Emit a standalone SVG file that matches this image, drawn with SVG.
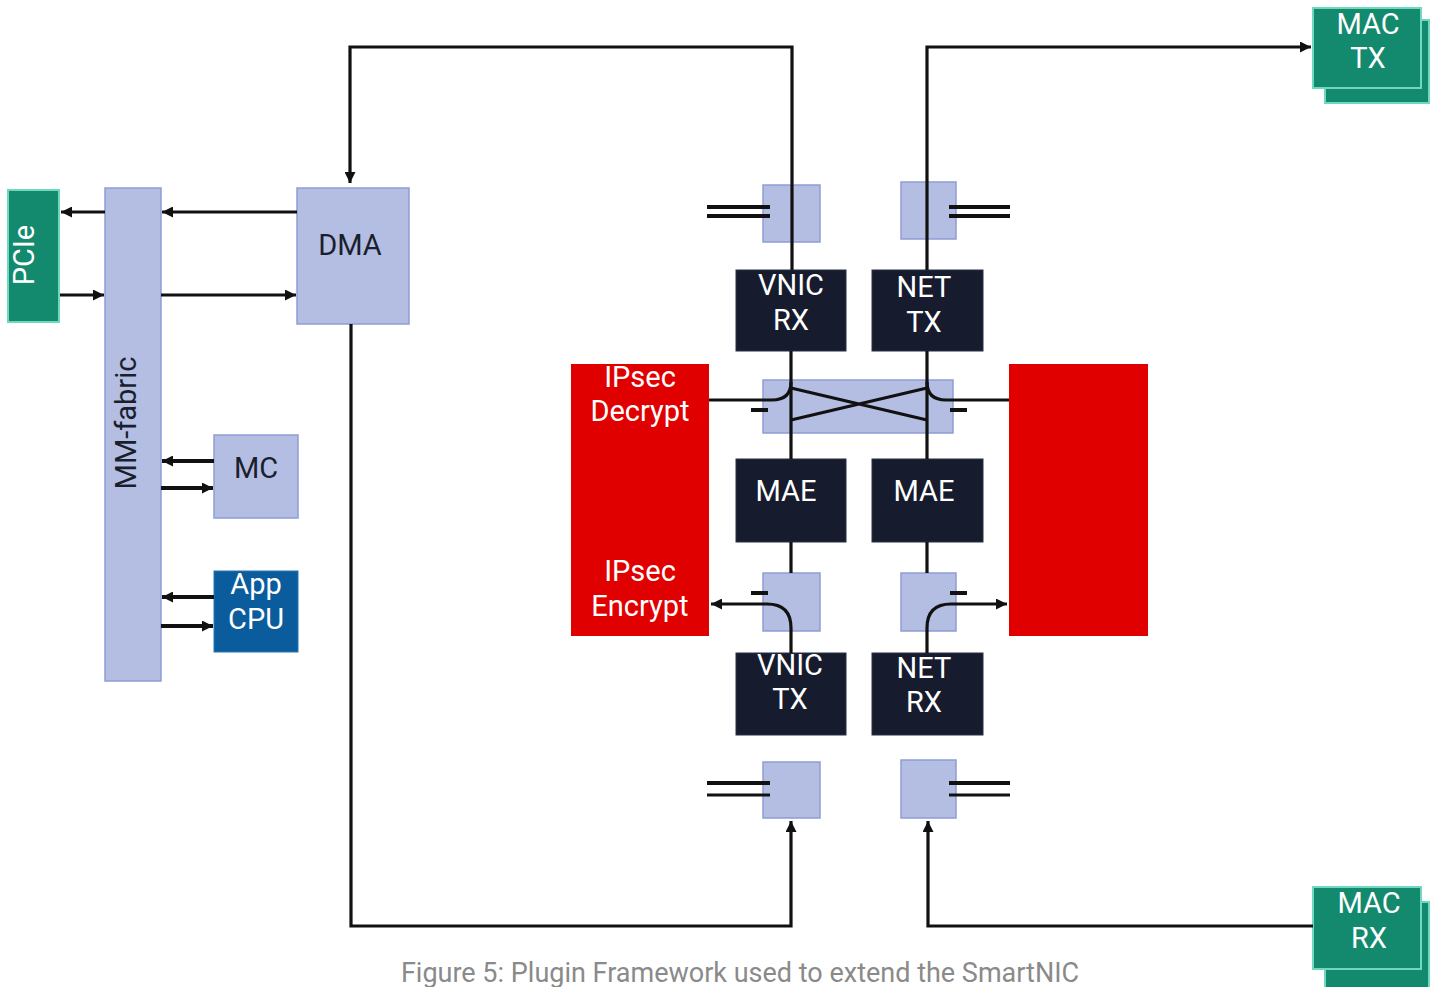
<svg xmlns="http://www.w3.org/2000/svg" width="1437" height="987" viewBox="0 0 1437 987">
<defs>
<style>
.lb{fill:#b4bde2;stroke:#8e9dd6;stroke-width:1.5}
.dk{fill:#161c2d;stroke:#2a3144;stroke-width:1}
.gr{fill:#138a6e;stroke:#6fd8bf;stroke-width:2}
.red{fill:#e10000}
.cpu{fill:#0b5c9d;stroke:#2a76b5;stroke-width:1}
.tw{font-family:Roboto,"Liberation Sans",sans-serif;font-size:29px;fill:#ffffff;text-anchor:middle}
.td{font-family:Roboto,"Liberation Sans",sans-serif;font-size:29px;fill:#1a1f2e;text-anchor:middle}
.ln{fill:none;stroke:#111;stroke-width:3.2}
.lt{fill:none;stroke:#111;stroke-width:4}
.cap{font-family:Roboto,"Liberation Sans",sans-serif;font-size:27px;fill:#8a8a8a;text-anchor:middle}
</style>
<marker id="ah" viewBox="0 0 10 10" refX="10" refY="5" markerWidth="11" markerHeight="11" markerUnits="userSpaceOnUse" orient="auto">
<path d="M0,0 L10,5 L0,10 z" fill="#111"/>
</marker>
</defs>
<rect width="1437" height="987" fill="#ffffff"/>

<g id="pcie"><rect class="gr" x="8" y="190" width="51" height="132" stroke="none"/><text class="tw" transform="translate(34,255) rotate(-90)">PCIe</text></g>
<g id="mm-fabric"><rect class="lb" x="105" y="188" width="56" height="493"/><text class="td" transform="translate(136,423) rotate(-90)">MM-fabric</text></g>
<g id="dma"><rect class="lb" x="297" y="188" width="112" height="136"/><text class="td" x="350" y="255">DMA</text></g>
<g id="mc"><rect class="lb" x="214" y="435" width="84" height="83"/><text class="td" x="256" y="478">MC</text></g>
<g id="app-cpu"><rect class="cpu" x="214" y="571" width="84" height="81"/><text class="tw" x="256" y="594">App</text><text class="tw" x="256" y="629">CPU</text></g>

<g id="mac-tx"><rect class="gr" x="1325" y="20" width="104" height="83"/><rect class="gr" x="1313" y="8" width="108" height="80"/><text class="tw" x="1368" y="34">MAC</text><text class="tw" x="1368" y="68">TX</text></g>
<g id="mac-rx"><rect class="gr" x="1325" y="902" width="104" height="90"/><rect class="gr" x="1313" y="887" width="108" height="82"/><text class="tw" x="1369" y="913">MAC</text><text class="tw" x="1369" y="948">RX</text></g>

<g id="ipsec-decrypt-encrypt"><rect class="red" x="571" y="364" width="138" height="272"/><text class="tw" x="640" y="387">IPsec</text><text class="tw" x="640" y="421">Decrypt</text><text class="tw" x="640" y="581">IPsec</text><text class="tw" x="640" y="616">Encrypt</text></g>
<g id="plugin-right"><rect class="red" x="1009" y="364" width="139" height="272"/></g>

<g id="port-vnic-rx"><rect class="lb" x="763" y="185" width="57" height="57"/></g>
<g id="port-net-tx"><rect class="lb" x="901" y="182" width="55" height="57"/></g>
<g id="switch"><rect class="lb" x="763" y="380" width="190" height="53"/></g>
<g id="port-vnic-tx-in"><rect class="lb" x="763" y="573" width="57" height="58"/></g>
<g id="port-net-rx-out"><rect class="lb" x="901" y="573" width="55" height="58"/></g>
<g id="port-vnic-tx"><rect class="lb" x="763" y="762" width="57" height="56"/></g>
<g id="port-net-rx"><rect class="lb" x="901" y="760" width="55" height="58"/></g>

<g id="vnic-rx"><rect class="dk" x="736" y="270" width="110" height="81"/><text class="tw" x="791" y="295">VNIC</text><text class="tw" x="791" y="330">RX</text></g>
<g id="net-tx"><rect class="dk" x="872" y="270" width="111" height="81"/><text class="tw" x="924" y="297">NET</text><text class="tw" x="924" y="332">TX</text></g>
<g id="mae-left"><rect class="dk" x="736" y="459" width="110" height="83"/><text class="tw" x="786" y="501">MAE</text></g>
<g id="mae-right"><rect class="dk" x="872" y="459" width="111" height="83"/><text class="tw" x="924" y="501">MAE</text></g>
<g id="vnic-tx"><rect class="dk" x="736" y="653" width="110" height="82"/><text class="tw" x="790" y="675">VNIC</text><text class="tw" x="790" y="709">TX</text></g>
<g id="net-rx"><rect class="dk" x="872" y="653" width="111" height="82"/><text class="tw" x="924" y="678">NET</text><text class="tw" x="924" y="712">RX</text></g>

<g id="connectors">
<path class="ln" d="M105,212 H61" marker-end="url(#ah)"/>
<path class="ln" d="M60,295 H104" marker-end="url(#ah)"/>
<path class="ln" d="M297,212 H162" marker-end="url(#ah)"/>
<path class="ln" d="M161,295 H296" marker-end="url(#ah)"/>
<path class="lt" d="M214,461 H162" marker-end="url(#ah)"/>
<path class="lt" d="M161,488 H213" marker-end="url(#ah)"/>
<path class="lt" d="M214,597 H162" marker-end="url(#ah)"/>
<path class="lt" d="M161,626 H213" marker-end="url(#ah)"/>
<path class="ln" d="M792,270 V47 H350 V183" marker-end="url(#ah)"/>
<path class="ln" d="M351,324 V926 H791 V821" marker-end="url(#ah)"/>
<path class="ln" d="M927,270 V47 H1311" marker-end="url(#ah)"/>
<path class="ln" d="M1313,926 H928 V821" marker-end="url(#ah)"/>
<path class="ln" d="M791,351 V459 M927,351 V459 M791,542 V573 M927,542 V573"/>
<path class="ln" d="M709,400 H772 Q791,400 791,382"/>
<path class="ln" d="M1009,400 H946 Q927,400 927,382"/>
<path class="ln" d="M791,388 L927,420 M791,420 L927,388"/>
<path class="lt" d="M751,410 H768 M950,410 H967 M751,593 H768 M950,593 H967"/>
<path class="ln" d="M791,653 V628 Q791,604 767,604 H711" marker-end="url(#ah)"/>
<path class="ln" d="M927,653 V628 Q927,604 951,604 H1007" marker-end="url(#ah)"/>
<path class="lt" d="M707,207 H770 M707,216 H770 M949,207 H1010 M949,216 H1010 M707,783 H770 M949,783 H1010"/>
<path class="ln" d="M707,795 H770 M949,795 H1010" stroke-width="2.5"/>
</g>

<text class="cap" x="740" y="982">Figure 5: Plugin Framework used to extend the SmartNIC</text>
</svg>
